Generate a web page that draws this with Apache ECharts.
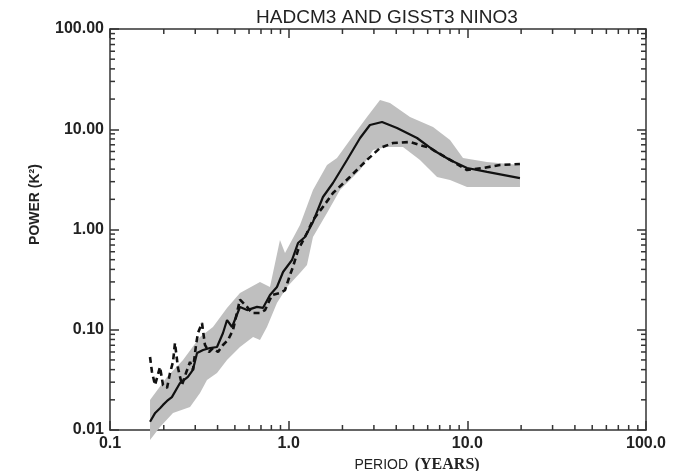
<!DOCTYPE html>
<html>
<head>
<meta charset="utf-8">
<title>HADCM3 AND GISST3 NINO3</title>
<script src="https://cdn.jsdelivr.net/npm/echarts@6/dist/echarts.min.js"></script>
<style>
  html, body { margin: 0; padding: 0; background: #fff; }
  #main { width: 677px; height: 471px; }
</style>
</head>
<body>
<div id="main"></div>
<script>
// [period (years), power (K^2)]
var hadcm3 = [
  [0.1675, 0.0121], [0.179, 0.0148], [0.1905, 0.0165], [0.198, 0.0178], [0.2085, 0.0195],
  [0.222, 0.0213], [0.2465, 0.0294], [0.273, 0.0338], [0.291, 0.0397], [0.307, 0.0586],
  [0.332, 0.0628], [0.363, 0.0657], [0.397, 0.0673], [0.429, 0.0928], [0.452, 0.125],
  [0.482, 0.1065], [0.534, 0.1686], [0.585, 0.157], [0.665, 0.169], [0.718, 0.165],
  [0.786, 0.222], [0.86, 0.267], [0.93, 0.377], [1.044, 0.496], [1.128, 0.733],
  [1.234, 0.842], [1.368, 1.19], [1.556, 2.11], [1.77, 2.91], [2.12, 4.93],
  [2.51, 8.18], [2.85, 11.03], [3.33, 11.81], [4.04, 10.29], [5.23, 8.18],
  [6.43, 6.21], [8.0, 4.93], [9.96, 4.11], [12.9, 3.75], [19.7, 3.26]
];
var gisst = [
  [0.1675, 0.0535], [0.1718, 0.0379], [0.1786, 0.0281], [0.1905, 0.0425], [0.198, 0.0281],
  [0.2085, 0.0262], [0.2167, 0.037], [0.2252, 0.0477], [0.231, 0.0738], [0.2402, 0.0415],
  [0.2529, 0.0281], [0.2663, 0.037], [0.2805, 0.0477], [0.2914, 0.0397], [0.303, 0.0705],
  [0.3108, 0.0928], [0.3273, 0.1168], [0.34, 0.0705], [0.3581, 0.06], [0.377, 0.0657],
  [0.4023, 0.06], [0.429, 0.0705], [0.4575, 0.079], [0.488, 0.0994], [0.534, 0.2],
  [0.585, 0.169], [0.6235, 0.147], [0.691, 0.147], [0.737, 0.157], [0.807, 0.222],
  [0.894, 0.2325], [0.954, 0.249], [1.017, 0.352], [1.057, 0.423], [1.128, 0.624],
  [1.266, 0.923], [1.368, 1.244], [1.556, 1.68], [1.77, 2.31], [2.2, 3.34],
  [2.74, 4.93], [3.245, 6.5], [3.84, 7.29], [4.78, 7.46], [6.18, 6.5],
  [7.69, 5.17], [9.96, 3.92], [12.24, 4.11], [15.2, 4.4], [19.7, 4.5]
];
// grey spread around the model spectrum
var bandUpper = [
  [0.1675, 0.0199], [0.2085, 0.0338], [0.2563, 0.0499], [0.319, 0.0847], [0.377, 0.1065],
  [0.4517, 0.1648], [0.534, 0.2325], [0.691, 0.299], [0.786, 0.267], [0.894, 0.786],
  [0.954, 0.583], [1.157, 1.109], [1.368, 2.48], [1.639, 4.4], [1.864, 5.17],
  [2.204, 7.81], [2.744, 13.25], [3.245, 19.58], [3.691, 18.28], [4.777, 13.25],
  [6.426, 10.53], [8.0, 7.81], [9.457, 5.17], [12.88, 4.71], [19.71, 4.4]
];
var bandLower = [
  [0.1675, 0.00795], [0.1905, 0.0107], [0.2252, 0.0148], [0.2805, 0.017], [0.319, 0.0234],
  [0.349, 0.0315], [0.397, 0.037], [0.4517, 0.0499], [0.534, 0.0673], [0.632, 0.0847],
  [0.691, 0.079], [0.756, 0.1065], [0.86, 0.185], [0.979, 0.267], [1.157, 0.368],
  [1.266, 0.442], [1.368, 0.842], [1.639, 1.46], [1.938, 2.48], [2.507, 3.92],
  [2.965, 6.21], [3.551, 6.65], [4.364, 6.65], [5.433, 4.93], [6.765, 3.34],
  [8.0, 3.12], [9.96, 2.65], [19.71, 2.65]
];
var xRange = [0.1, 100];
var yRange = [0.01, 100];
var xDecades = [0.1, 1, 10];
var yDecades = [0.01, 0.1, 1, 10];
var minorSteps = [2, 3, 4, 5, 6, 7, 8, 9];

var xMinor = []
xDecades.forEach(function (d) { minorSteps.forEach(function (k) { xMinor.push(d * k) }) })
var yMinor = []
yDecades.forEach(function (d) { minorSteps.forEach(function (k) { yMinor.push(d * k) }) })

var axisColor = '#333';

function mainAxis (range, position, showLabel, fmt) {
  return {
    type: 'log',
    min: range[0],
    max: range[1],
    position: position,
    axisLine: { show: true, onZero: false, lineStyle: { color: axisColor, width: 1.5 } },
    axisTick: { show: true, inside: true, length: 9, lineStyle: { color: axisColor, width: 1.5 } },
    axisLabel: {
      show: showLabel,
      formatter: fmt,
      color: '#222',
      fontFamily: 'Liberation Sans',
      fontWeight: 'bold',
      fontSize: 16,
      margin: 6
    },
    splitLine: { show: false }
  }
}

var xFmt = function (v) { return Number(v).toFixed(1) }
var yFmt = function (v) { return Number(v).toFixed(2) }

var xAxes = [mainAxis(xRange, 'bottom', true, xFmt), mainAxis(xRange, 'top', false, xFmt)]
var yAxes = [mainAxis(yRange, 'left', true, yFmt), mainAxis(yRange, 'right', false, yFmt)]
xAxes[0].name = '{a|PERIOD}  {b|(YEARS)}'
xAxes[0].nameLocation = 'middle'
xAxes[0].nameGap = 27
xAxes[0].nameTextStyle = {
  padding: [0, 0, 0, 78],
  rich: {
    a: { fontFamily: 'Liberation Sans', fontSize: 14, color: '#222' },
    b: { fontFamily: 'Liberation Serif', fontWeight: 'bold', fontSize: 16, color: '#222' }
  }
}
yAxes[0].name = 'POWER (K²)'
yAxes[0].nameLocation = 'middle'
yAxes[0].nameGap = 68
yAxes[0].nameTextStyle = {
  fontFamily: 'Liberation Sans', fontWeight: 'bold', fontSize: 14, color: '#222',
  padding: [0, 0, 0, 50]
}

// minor log ticks on all four sides of the box
function tickLine (x1, y1, x2, y2) {
  return { type: 'line', shape: { x1: x1, y1: y1, x2: x2, y2: y2 }, style: { stroke: axisColor, lineWidth: 1.5 } }
}
function xMinorRender (params, api) {
  var v = api.value(0)
  var b = api.coord([v, yRange[0]])
  var t = api.coord([v, yRange[1]])
  return { type: 'group', children: [tickLine(b[0], b[1], b[0], b[1] - 5), tickLine(t[0], t[1], t[0], t[1] + 5)] }
}
function yMinorRender (params, api) {
  var v = api.value(1)
  var l = api.coord([xRange[0], v])
  var r = api.coord([xRange[1], v])
  return { type: 'group', children: [tickLine(l[0], l[1], l[0] + 5, l[1]), tickLine(r[0], r[1], r[0] - 5, r[1])] }
}

var chart = echarts.init(document.getElementById('main'))
var option = {
  animation: false,
  backgroundColor: '#fff',
  title: {
    text: 'HADCM3 AND GISST3 NINO3',
    left: 382,
    top: 3,
    textAlign: 'center',
    textStyle: { fontFamily: 'Liberation Sans', fontWeight: 'normal', fontSize: 19, color: '#222' }
  },
  grid: { left: 110, right: 31, top: 29, bottom: 41, containLabel: false, outerBoundsMode: 'none' },
  xAxis: xAxes,
  yAxis: yAxes,
  series: [
    {
      name: 'spread',
      type: 'custom',
      z: 1,
      data: [bandUpper[0]],
      renderItem: function (params, api) {
        var pts = []
        bandUpper.forEach(function (p) { pts.push(api.coord(p)) })
        bandLower.slice().reverse().forEach(function (p) { pts.push(api.coord(p)) })
        return { type: 'polygon', shape: { points: pts }, style: { fill: '#bfbfbf' } }
      }
    },
    {
      name: 'xMinorTicks',
      type: 'custom',
      z: 5,
      silent: true,
      data: xMinor.map(function (v) { return [v, yRange[0]] }),
      renderItem: xMinorRender
    },
    {
      name: 'yMinorTicks',
      type: 'custom',
      z: 5,
      silent: true,
      data: yMinor.map(function (v) { return [xRange[0], v] }),
      renderItem: yMinorRender
    },
    {
      name: 'GISST3',
      type: 'line',
      z: 3,
      showSymbol: false,
      data: gisst,
      lineStyle: { color: '#111', width: 2.6, type: [6, 4] }
    },
    {
      name: 'HADCM3',
      type: 'line',
      z: 4,
      showSymbol: false,
      data: hadcm3,
      lineStyle: { color: '#111', width: 2.2 }
    }
  ]
}
chart.setOption(option)
</script>
</body>
</html>
